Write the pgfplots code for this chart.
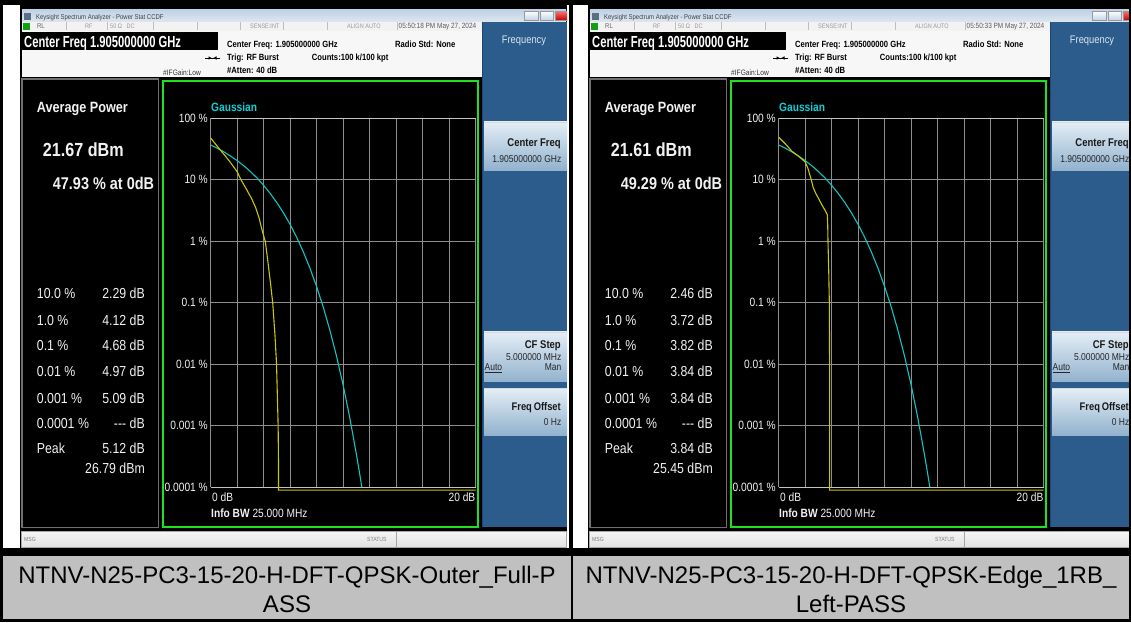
\documentclass[border=0pt]{standalone}
\usepackage{pgfplots}
\pgfplotsset{compat=1.18}
\usepackage{fontspec}
\setmainfont{Liberation Sans}
\newfontfamily\scr[FakeStretch=0.85]{Liberation Sans}
\newfontfamily\scrn[FakeStretch=0.70]{Liberation Sans}
\newcommand\fs[1]{\fontsize{#1}{#1}\selectfont}
\definecolor{bpanel}{HTML}{2C5C8C}
\definecolor{bpaneledge}{HTML}{1E4470}
\definecolor{btntop}{HTML}{E4EEF6}
\definecolor{btnmid}{HTML}{C8DCEB}
\definecolor{btnbot}{HTML}{92B2CE}
\definecolor{tbartop}{HTML}{BFD2E6}
\definecolor{tbarbot}{HTML}{DCE6F0}
\definecolor{iconcol}{HTML}{5A6E84}
\definecolor{lxigreen}{HTML}{10A010}
\definecolor{freqtext}{HTML}{DCE6F0}
\definecolor{sbtop}{HTML}{F6F6F6}
\definecolor{sbbot}{HTML}{E2E2E2}
\definecolor{statrow}{HTML}{F2F2F2}
\definecolor{hdrwhite}{HTML}{F7F7F7}
\definecolor{infobord}{HTML}{707070}
\definecolor{plotgreen}{HTML}{20E020}
\definecolor{gridgray}{HTML}{8E8E8E}
\definecolor{gridlight}{HTML}{C4C4C4}
\definecolor{gcyan}{HTML}{14C4C4}
\definecolor{gcyantext}{HTML}{10D0D8}
\definecolor{yel}{HTML}{C8C800}
\definecolor{capgray}{HTML}{C0C0C0}
\definecolor{wtext}{HTML}{F2F2F2}

% one analyzer screen, drawn in local pixel coordinates (left screen)
\newcommand\screen[2]{%
\begin{scope}[xshift=#1]
\clip (20,5) rectangle (#2,548);
\fill[black] (20,5) rectangle (567,548);
% title bar
\shade[top color=tbartop,bottom color=tbarbot] (22,9.5) rectangle (566,21.5);
\fill[iconcol] (24,12.5) rectangle (31,20);
\node[anchor=base west,inner sep=0pt,text=black!75,font=\scr\fs{7}] at (36,19) {Keysight Spectrum Analyzer - Power Stat CCDF};
\shade[top color=white,bottom color=tbartop,draw=black!40] (524,11) rectangle (538,20.5);
\shade[top color=white,bottom color=tbartop,draw=black!40] (540,11) rectangle (553,20.5);
\shade[top color=red!55,bottom color=red!75!black,draw=black!40] (555,11) rectangle (569,20.5);
% status row
\fill[statrow] (22,21.5) rectangle (482,30.5);
\foreach \sx in {66.7,107,153,197,240,283,327,397}{\draw[black!25,line width=0.6pt] (\sx,22)--(\sx,30);}
\fill[lxigreen] (23,22.5) rectangle (30,29.5);
\node[anchor=base west,inner sep=0pt,text=black!60,font=\scr\fs{7}] at (37,28.3) {RL};
\node[anchor=base west,inner sep=0pt,text=black!40,font=\scr\fs{6.5}] at (85,28.3) {RF};
\node[anchor=base west,inner sep=0pt,text=black!40,font=\scr\fs{6.5}] at (110,28.3) {50 Ω\ \ \ DC};
\node[anchor=base west,inner sep=0pt,text=black!40,font=\scr\fs{6.5}] at (250,28.3) {SENSE:INT};
\node[anchor=base west,inner sep=0pt,text=black!40,font=\scr\fs{6.5}] at (347,28.3) {ALIGN AUTO};
\node[anchor=base west,inner sep=0pt,text=black!65,font=\scr\fs{7.6}] at (398.5,28.5) {\tm};
% header
\fill[hdrwhite] (22,30.5) rectangle (482,77);
\fill[black] (22,31.5) rectangle (218,50);
\node[anchor=base west,inner sep=0pt,text=white,font=\scrn\bfseries\fs{16}] at (24,47.7) {Center Freq 1.905000000 GHz};
\node[anchor=base west,inner sep=0pt,text=black,font=\scr\bfseries\fs{9}] at (227,47) {Center Freq: 1.905000000 GHz};
\node[anchor=base west,inner sep=0pt,text=black,font=\scr\bfseries\fs{9}] at (395,47) {Radio Std: None};
\node[anchor=base west,inner sep=0pt,text=black,font=\scr\bfseries\fs{9}] at (227,60.7) {Trig: RF Burst};
\node[anchor=base west,inner sep=0pt,text=black,font=\scr\bfseries\fs{9}] at (311.7,60.7) {Counts:100 k/100 kpt};
\node[anchor=base west,inner sep=0pt,text=black,font=\scr\bfseries\fs{9}] at (227,73) {\#Atten: 40 dB};
\node[anchor=base west,inner sep=0pt,text=black!80,font=\scr\fs{7.8}] at (163,75) {\#IFGain:Low};
\draw[line width=0.6pt] (205,58)--(220,58);
\fill (208.5,56.3)--(211.5,58)--(208.5,59.7)--cycle;
\fill (216.5,56.3)--(213.5,58)--(216.5,59.7)--cycle;
% softkey panel
\fill[bpanel] (482,21.5) rectangle (567,527);
\draw[bpaneledge,line width=1pt] (482.5,21.5)--(482.5,527);
\node[anchor=base,inner sep=0pt,text=freqtext,font=\scr\fs{11}] at (524,43.9) {Frequency};
\foreach \ya/\yb in {121.7/170,331.7/381.7,388/435}{%
  \shade[top color=btntop,middle color=btnmid,bottom color=btnbot] (484,\ya) rectangle (568,\yb);
  \draw[white!85!black,line width=0.8pt] (484,\ya+0.5)--(568,\ya+0.5);}
\node[anchor=base east,inner sep=0pt,text=black!90,font=\scr\bfseries\fs{11.2}] at (561,146.6) {Center Freq};
\node[anchor=base east,inner sep=0pt,text=black!85,font=\scr\fs{10}] at (561.5,162.9) {1.905000000 GHz};
\node[anchor=base east,inner sep=0pt,text=black!90,font=\scr\bfseries\fs{11.2}] at (561,348.9) {CF Step};
\node[anchor=base east,inner sep=0pt,text=black!85,font=\scr\fs{10}] at (561.5,360.3) {5.000000 MHz};
\node[anchor=base west,inner sep=0pt,text=black!85,font=\scr\fs{10}] at (484.5,370.3) {\underline{Auto}};
\node[anchor=base east,inner sep=0pt,text=black!85,font=\scr\fs{10}] at (561.5,370.3) {Man};
\node[anchor=base east,inner sep=0pt,text=black!90,font=\scr\bfseries\fs{11}] at (561,410.6) {Freq\,Offset};
\node[anchor=base east,inner sep=0pt,text=black!85,font=\scr\fs{10}] at (561.5,425.3) {0 Hz};
% info panel
\draw[infobord,fill=black,line width=1.3pt] (22,79) rectangle (158.5,527.5);
\node[anchor=base west,inner sep=0pt,text=wtext,font=\scr\bfseries\fs{14.9}] at (36.7,112.3) {Average Power};
\node[anchor=base west,inner sep=0pt,text=wtext,font=\scr\bfseries\fs{19}] at (42.7,156) {\avg};
\node[anchor=base west,inner sep=0pt,text=wtext,font=\scr\bfseries\fs{17}] at (52.7,189.8) {\pz\ \% at 0dB};
\foreach \lab/\val/\yy in {10.0 \%/\ra/298.5,1.0 \%/\rb/325.2,0.1 \%/\rc/350.2,0.01 \%/\rd/376.9,0.001 \%/\re/403.5,0.0001 \%/--- dB/428.5,Peak/\rg/453.5}{%
  \node[anchor=base west,inner sep=0pt,text=wtext,font=\scr\fs{14.5}] at (36.7,\yy) {\lab};
  \node[anchor=base east,inner sep=0pt,text=wtext,font=\scr\fs{14.5}] at (145,\yy) {\val};}
\node[anchor=base east,inner sep=0pt,text=wtext,font=\scr\fs{14.5}] at (145,473.5) {\pk};
% plot frame
\draw[plotgreen,fill=black,line width=2pt] (162.5,80.5) rectangle (477.5,526.5);
\node[anchor=base west,inner sep=0pt,text=gcyantext,font=\scr\bfseries\fs{12}] at (211,111.3) {Gaussian};
\node[anchor=base west,inner sep=0pt,text=wtext,font=\scr\fs{12}] at (212,501.3) {0 dB};
\node[anchor=base east,inner sep=0pt,text=wtext,font=\scr\fs{12}] at (475.5,501.3) {20 dB};
\node[anchor=base west,inner sep=0pt,text=wtext,font=\scr\fs{12}] at (211,517.3) {\textbf{Info BW} 25.000 MHz};
% bottom status bar
\shade[top color=sbtop,bottom color=sbbot,draw=black!35] (21.5,531) rectangle (566,547.5);
\draw[black!35] (396,532)--(396,547);
\node[anchor=base west,inner sep=0pt,text=black!50,font=\scr\fs{6}] at (24,541) {MSG};
\node[anchor=base west,inner sep=0pt,text=black!50,font=\scr\fs{6}] at (367,541) {STATUS};
\end{scope}}

\begin{document}
\begin{tikzpicture}[x=1pt,y=-1pt]
\useasboundingbox (0,0) rectangle (1131,622);
\fill[white] (0,0) rectangle (1131,622);
% left screen
\def\tm{05:50:18 PM May 27, 2024}\def\avg{21.67 dBm}\def\pz{47.93}
\def\ra{2.29 dB}\def\rb{4.12 dB}\def\rc{4.68 dB}\def\rd{4.97 dB}\def\re{5.09 dB}\def\rg{5.12 dB}\def\pk{26.79 dBm}
\screen{0}{567}
% right screen
\def\tm{05:50:33 PM May 27, 2024}\def\avg{21.61 dBm}\def\pz{49.29}
\def\ra{2.46 dB}\def\rb{3.72 dB}\def\rc{3.82 dB}\def\rd{3.84 dB}\def\re{3.84 dB}\def\rg{3.84 dB}\def\pk{25.45 dBm}
\screen{568}{561}

\begin{axis}[at={(210.7pt,-487.3pt)}, anchor=south west,
  scale only axis, width=265pt, height=369pt,
  xmin=0, xmax=20, ymode=log, ymin=0.0001, ymax=100,
  axis line style={draw=none}, tick style={draw=none}, clip=false,
  xtick={0,2,...,20}, xticklabels={},
  ytick={0.0001,0.001,0.01,0.1,1,10,100},
  yticklabels={0.0001 \%,0.001 \%,0.01 \%,0.1 \%,1 \%,10 \%,100 \%},
  yticklabel style={font=\scr\fs{12}, text=wtext, inner sep=0pt, xshift=-2.7pt},
  grid=major, major grid style={color=gridgray, line width=0.9pt}]
\draw[gridlight,line width=1.3pt] (axis cs:0,100)--(axis cs:20,100);
\draw[gridlight,line width=1.3pt] (axis cs:0,0.0001)--(axis cs:20,0.0001);
\addplot[gcyan, line width=1.1pt] coordinates {(0,36.8) (0.5,32.6) (1,28.4) (1.5,24.3) (2,20.5) (2.5,16.9) (3,13.6) (3.5,10.7) (4,8.11) (4.5,5.97) (5,4.23) (5.5,2.88) (6,1.87) (6.5,1.148) (7,0.666) (7.5,0.361) (8,0.182) (8.5,0.0843) (9,0.0355) (9.5,0.01347) (10,0.00454) (10.5,0.00134) (11,0.00034) (11.2,0.000189) (11.41,0.0001)};
\addplot[yel, line width=1.1pt] coordinates {(0,47.93) (0.5,35) (0.75,30) (1,26) (1.5,19) (2,13.5) (2.29,10) (2.7,7.0) (3.1,4.9) (3.4,3.5) (3.65,2.4) (3.85,1.6) (4.0,1.22) (4.12,1.0) (4.3,0.5) (4.5,0.22) (4.68,0.1) (4.85,0.03) (4.97,0.01) (5.09,0.001) (5.12,0.0002) (5.12,0.00009) (20,0.00009)};
\end{axis}

\begin{axis}[at={(778.7pt,-487.3pt)}, anchor=south west,
  scale only axis, width=265pt, height=369pt,
  xmin=0, xmax=20, ymode=log, ymin=0.0001, ymax=100,
  axis line style={draw=none}, tick style={draw=none}, clip=false,
  xtick={0,2,...,20}, xticklabels={},
  ytick={0.0001,0.001,0.01,0.1,1,10,100},
  yticklabels={0.0001 \%,0.001 \%,0.01 \%,0.1 \%,1 \%,10 \%,100 \%},
  yticklabel style={font=\scr\fs{12}, text=wtext, inner sep=0pt, xshift=-2.7pt},
  grid=major, major grid style={color=gridgray, line width=0.9pt}]
\draw[gridlight,line width=1.3pt] (axis cs:0,100)--(axis cs:20,100);
\draw[gridlight,line width=1.3pt] (axis cs:0,0.0001)--(axis cs:20,0.0001);
\addplot[gcyan, line width=1.1pt] coordinates {(0,36.8) (0.5,32.6) (1,28.4) (1.5,24.3) (2,20.5) (2.5,16.9) (3,13.6) (3.5,10.7) (4,8.11) (4.5,5.97) (5,4.23) (5.5,2.88) (6,1.87) (6.5,1.148) (7,0.666) (7.5,0.361) (8,0.182) (8.5,0.0843) (9,0.0355) (9.5,0.01347) (10,0.00454) (10.5,0.00134) (11,0.00034) (11.2,0.000189) (11.41,0.0001)};
\addplot[yel, line width=1.1pt] coordinates {(0,49.29) (0.5,38.5) (1,29) (1.5,24.2) (2,19.5) (2.2,15.5) (2.46,10) (2.6,7.5) (2.8,6.0) (3.0,5.0) (3.26,3.9) (3.5,3.2) (3.67,2.7) (3.70,1.8) (3.72,1.0) (3.78,0.3) (3.82,0.1) (3.84,0.01) (3.84,0.001) (3.84,0.00009) (20,0.00009)};
\end{axis}

% table borders and captions
\fill[black] (0,0) rectangle (1131,5);
\fill[black] (0,0) rectangle (2.5,622);
\fill[black] (1129,0) rectangle (1131,622);
\fill[black] (568.5,0) rectangle (572.5,556);
\fill[black] (0,548) rectangle (1131,556);
\fill[capgray] (2.5,556) rectangle (571.3,619);
\fill[capgray] (573.3,556) rectangle (1129,619);
\fill[black] (571.3,556) rectangle (573.3,622);
\fill[black] (0,619) rectangle (1131,622);
\node[anchor=base,inner sep=0pt,font=\fs{24}] at (287,583.5) {NTNV-N25-PC3-15-20-H-DFT-QPSK-Outer\_Full-P};
\node[anchor=base,inner sep=0pt,font=\fs{24}] at (287,612.5) {ASS};
\node[anchor=base,inner sep=0pt,font=\fs{24}] at (851,583.5) {NTNV-N25-PC3-15-20-H-DFT-QPSK-Edge\_1RB\_};
\node[anchor=base,inner sep=0pt,font=\fs{24}] at (851,612.5) {Left-PASS};
\end{tikzpicture}
\end{document}
